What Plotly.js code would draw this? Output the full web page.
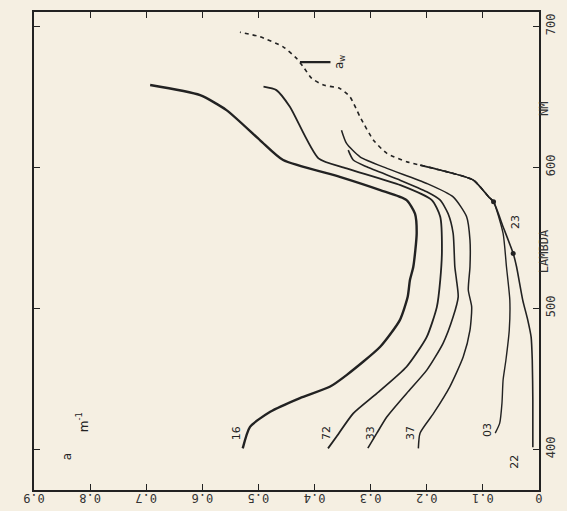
<!DOCTYPE html>
<html>
<head>
<meta charset="utf-8">
<script src="https://cdn.plot.ly/plotly-3.0.1.min.js"></script>
<style>html,body{margin:0;padding:0;background:#f5efe2;}#chart{width:567px;height:511px;}</style>
</head>
<body>
<div id="chart"></div>
<script>
// Wavelength (nm) and absorption a (m^-1) per curve (label = depth tag)
const c16_wl = [400.5,415.8,426.5,436.2,444.2,452.5,472.6,491.5,508,519.9,529.3,553,567,576.6,583.7,593.1,605,619,640.4,651,658.2];
const c16_a  = [0.528,0.515,0.479,0.426,0.373,0.343,0.283,0.248,0.234,0.230,0.224,0.218,0.221,0.236,0.283,0.355,0.456,0.497,0.557,0.604,0.693];

const c72_wl = [400.5,408.7,425.3,439.5,458.4,479.6,500.9,519.9,541,564.8,576.6,587.2,599.1,606.2,642.8,654.6,657];
const c72_a  = [0.376,0.361,0.331,0.289,0.236,0.200,0.182,0.176,0.173,0.176,0.191,0.247,0.343,0.393,0.444,0.468,0.491];

const c33_wl = [400.7,411.3,422.9,439.5,456,475,493.8,508,519.9,529.3,553,567,576.6,582.5,590.8,600.2,605,612];
const c33_a  = [0.305,0.289,0.271,0.236,0.200,0.171,0.153,0.144,0.147,0.150,0.153,0.162,0.176,0.200,0.248,0.307,0.331,0.340];

const c37_wl = [400.5,411.3,425.3,444.2,465.5,484.4,500.9,512.8,529.3,548.2,564.8,578.9,588.4,599.1,607.3,616.8,626.2];
const c37_a  = [0.215,0.212,0.188,0.159,0.135,0.123,0.120,0.126,0.123,0.123,0.129,0.153,0.200,0.271,0.319,0.343,0.352];

const c03_wl = [411.3,418.4,432.6,449,463,484.4,505.7,529.3,553,575.4,579,590.8,597.9];
const c03_a  = [0.078,0.070,0.066,0.064,0.059,0.053,0.052,0.058,0.064,0.081,0.090,0.117,0.176];

const c22_wl = [401.4,434.8,463,479.4,491.5,505.7,529.3,538.8,557.7,575.4,579,590.8,597.9,601.4];
const c22_a  = [0.011,0.011,0.012,0.014,0.020,0.029,0.040,0.046,0.064,0.081,0.090,0.117,0.176,0.212];

const water_wl = [575.4,579,590.8,597.9,601.4,603.8,609.7,619.1,635.7,649.9,655.8,658.2,662.9,671.1,677.1,685.3,692.4,695.7];
const water_a  = [0.081,0.090,0.117,0.176,0.212,0.236,0.271,0.295,0.319,0.337,0.355,0.384,0.405,0.420,0.432,0.456,0.497,0.533];

const dots_wl = [575.4,538.8];
const dots_a  = [0.081,0.046];

const xTickVals = [0,0.1,0.2,0.3,0.4,0.5,0.6,0.7,0.8,0.9];
const xTickText = ["0","0.1","0.2","0.3","0.4","0.5","0.6","0.7","0.8","0.9"];
const yTickVals = [400,500,600,700];
const yTickText = ["400","500","600","700"];

const ink = "#222";
function line(wl, a, w, dash) {
  return {x: a, y: wl, type: "scatter", mode: "lines",
    line: {color: ink, width: w, dash: dash || "solid", shape: "spline", smoothing: 0.6},
    hoverinfo: "skip", showlegend: false};
}
const traces = [
  line(c16_wl, c16_a, 2.4),
  line(c72_wl, c72_a, 1.8),
  line(c33_wl, c33_a, 1.6),
  line(c37_wl, c37_a, 1.5),
  line(c03_wl, c03_a, 1.4),
  line(c22_wl, c22_a, 1.6),
  line(water_wl, water_a, 1.6, "4px,4px"),
  {x: dots_a, y: dots_wl, type: "scatter", mode: "markers",
   marker: {color: ink, size: 5}, hoverinfo: "skip", showlegend: false}
];

const lblFont = {family: "DejaVu Sans", size: 11, color: ink};
function lab(text, a, wl, extra) {
  return Object.assign({x: a, y: wl, xref: "x", yref: "y", text: text, showarrow: false,
    textangle: -90, font: lblFont}, extra || {});
}
const annotations = [
  lab("16", 0.540, 411.3),
  lab("72", 0.380, 411.3),
  lab("33", 0.301, 411.3),
  lab("37", 0.230, 411.3),
  lab("03", 0.093, 413.5),
  lab("22", 0.045, 390.8),
  lab("23", 0.043, 561),
  // a_w label with its short leader bar
  lab("a<sub>w</sub>", 0.426, 674.5, {showarrow: true, ax: 40, ay: 0, arrowhead: 0, arrowwidth: 2.2,
      arrowcolor: ink, standoff: 0, font: {family: "DejaVu Sans", size: 12, color: ink}}),
  lab("a", 0.841, 394.3, {font: {family: "DejaVu Sans", size: 12, color: ink}}),
  lab("m<sup>-1</sup>", 0.813, 419, {font: {family: "DejaVu Sans", size: 12, color: ink}}),
  {x: 1.028, y: 0.50, xref: "paper", yref: "paper", text: "LAMBDA", showarrow: false,
   textangle: -90, font: {family: "DejaVu Sans Mono", size: 12, color: "#333"}},
  {x: 1.028, y: 0.816, xref: "paper", yref: "paper", text: "NM", showarrow: false,
   textangle: -90, font: {family: "DejaVu Sans Mono", size: 12, color: "#333"}}
];

const layout = {
  width: 567, height: 511,
  margin: {l: 34, r: 28, t: 12, b: 21, pad: 0},
  paper_bgcolor: "#f5efe2", plot_bgcolor: "#f5efe2",
  showlegend: false,
  xaxis: {range: [0.9, 0], tickvals: xTickVals, ticktext: xTickText, tickangle: 180,
    ticks: "inside", ticklen: 6, tickcolor: ink, showline: true, linecolor: ink, linewidth: 1.6,
    mirror: "ticks", showgrid: false, zeroline: false,
    tickfont: {family: "DejaVu Sans Mono", size: 12, color: "#333"}},
  yaxis: {range: [371, 710], side: "right", tickvals: yTickVals, ticktext: yTickText, tickangle: -90,
    ticks: "inside", ticklen: 6, tickcolor: ink, showline: true, linecolor: ink, linewidth: 1.6,
    mirror: "ticks", showgrid: false, zeroline: false,
    tickfont: {family: "DejaVu Sans Mono", size: 12, color: "#333"}},
  annotations: annotations
};
Plotly.newPlot("chart", traces, layout, {staticPlot: true, displayModeBar: false});
</script>
</body>
</html>
